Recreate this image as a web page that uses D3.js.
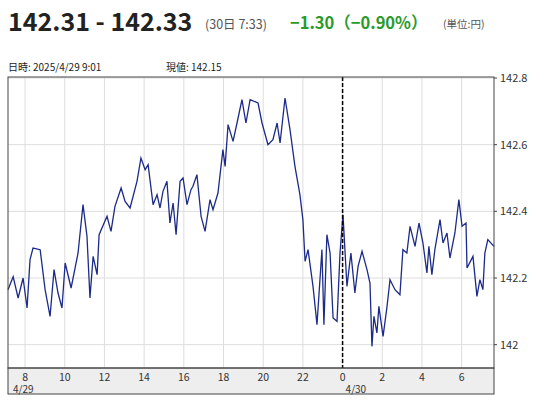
<!DOCTYPE html>
<html><head><meta charset="utf-8">
<script src="https://cdn.jsdelivr.net/npm/d3@7"></script>
<style>body{margin:0;background:#fff;font-family:"Noto Sans CJK JP","Noto Sans",sans-serif}</style>
</head><body><svg id="c" width="547" height="400"></svg>
<script>
const hours=[7.14,7.40,7.65,7.90,8.10,8.25,8.40,8.76,9.01,9.26,9.46,9.66,9.86,10.02,10.32,10.67,10.92,11.12,11.27,11.43,11.63,11.73,12.13,12.33,12.53,12.84,13.04,13.29,13.64,13.84,14.05,14.20,14.45,14.65,14.80,14.95,15.15,15.30,15.46,15.61,15.81,15.96,16.16,16.36,16.46,16.66,16.87,17.07,17.32,17.47,17.72,17.97,18.08,18.23,18.48,18.68,18.93,19.13,19.34,19.74,19.94,20.24,20.49,20.70,20.85,21.10,21.35,21.60,21.85,22.00,22.11,22.26,22.51,22.71,22.96,23.06,23.21,23.37,23.52,23.72,23.87,24.02,24.22,24.42,24.62,24.78,24.98,25.23,25.38,25.48,25.58,25.73,25.83,26.04,26.24,26.39,26.64,26.89,27.04,27.24,27.40,27.65,27.85,28.05,28.25,28.35,28.50,28.65,28.91,29.06,29.26,29.41,29.66,29.86,30.02,30.22,30.27,30.57,30.77,30.92,31.07,31.17,31.32,31.63];
const prices=[142.165,142.204,142.14,142.2,142.11,142.255,142.29,142.285,142.165,142.085,142.225,142.155,142.11,142.245,142.17,142.275,142.42,142.325,142.14,142.265,142.21,142.33,142.385,142.34,142.415,142.47,142.43,142.41,142.49,142.56,142.525,142.54,142.42,142.45,142.41,142.46,142.49,142.365,142.425,142.33,142.49,142.50,142.42,142.465,142.475,142.51,142.385,142.34,142.435,142.405,142.455,142.585,142.535,142.66,142.61,142.665,142.735,142.665,142.735,142.725,142.665,142.6,142.615,142.665,142.605,142.74,142.645,142.535,142.45,142.375,142.25,142.285,142.175,142.06,142.285,142.06,142.33,142.275,142.08,142.07,142.275,142.39,142.175,142.275,142.155,142.235,142.28,142.225,142.185,141.995,142.085,142.035,142.115,142.025,142.115,142.195,142.165,142.15,142.285,142.275,142.355,142.295,142.365,142.305,142.215,142.295,142.21,142.285,142.375,142.305,142.335,142.26,142.335,142.435,142.355,142.365,142.23,142.265,142.145,142.195,142.165,142.275,142.315,142.295];
const xTicks=[8,10,12,14,16,18,20,22,24,26,28,30];
const xTickLabels=["8","10","12","14","16","18","20","22","0","2","4","6"];
const yTicks=[142,142.2,142.4,142.6,142.8];
const dateLabels=[{h:8,t:"4/29",dx:-12},{h:24,t:"4/30",dx:3}];

const svg=d3.select("#c");
const L=8,R=494,T=77,B=368,AB=394;
const x=d3.scaleLinear().domain([7.14,31.63]).range([L,R]);
const y=d3.scaleLinear().domain([141.93,142.803]).range([B,T]);

svg.append("text").attr("x",8).attr("y",31).attr("font-size",25).attr("font-weight","bold").attr("fill","#222").text("142.31 - 142.33");
svg.append("text").attr("x",205).attr("y",29).attr("font-size",12.5).attr("fill","#555").text("(30日 7:33)");
svg.append("text").attr("x",290).attr("y",29).attr("font-size",16.5).attr("font-weight","bold").attr("fill","#2a9a2a").text("−1.30（−0.90%）");
svg.append("text").attr("x",443).attr("y",28).attr("font-size",10.5).attr("fill","#555").text("(単位:円)");
svg.append("text").attr("x",8).attr("y",71).attr("font-size",10).attr("fill","#222").text("日時: 2025/4/29  9:01");
svg.append("text").attr("x",166).attr("y",71).attr("font-size",10).attr("fill","#222").text("現値: 142.15");

const g=svg.append("g");
g.selectAll(".vx").data(xTicks).enter().append("line").attr("x1",d=>x(d)).attr("x2",d=>x(d)).attr("y1",T).attr("y2",B).attr("stroke","#ddd");
g.selectAll(".hy").data(yTicks).enter().append("line").attr("x1",L).attr("x2",R).attr("y1",d=>y(d)).attr("y2",d=>y(d)).attr("stroke","#ddd");

svg.append("rect").attr("x",L).attr("y",B).attr("width",R-L).attr("height",AB-B).attr("fill","#eee").attr("stroke","#444");
svg.selectAll(".xl").data(xTicks).enter().append("text").attr("x",d=>x(d)).attr("y",381).attr("text-anchor","middle").attr("font-size",10.5).attr("fill","#333").text((d,i)=>xTickLabels[i]);
svg.selectAll(".dl").data(dateLabels).enter().append("text").attr("x",d=>x(d.h)+d.dx).attr("y",393).attr("font-size",10).attr("fill","#333").text(d=>d.t);

svg.selectAll(".yl").data(yTicks).enter().append("text").attr("x",R+6).attr("y",d=>y(d)+4).attr("font-size",11).attr("fill","#333").text(d=>+d.toFixed(1));
svg.selectAll(".yt").data(yTicks).enter().append("line").attr("x1",R).attr("x2",R+3).attr("y1",d=>y(d)).attr("y2",d=>y(d)).attr("stroke","#444");

const line=d3.line().x((d,i)=>x(hours[i])).y(d=>y(d));
svg.append("path").datum(prices).attr("d",line).attr("fill","none").attr("stroke","#1c2a8a").attr("stroke-width",1.3);

svg.append("line").attr("x1",x(24)).attr("x2",x(24)).attr("y1",T).attr("y2",B).attr("stroke","#000").attr("stroke-width",1.5).attr("stroke-dasharray","4,2");

svg.append("rect").attr("x",L).attr("y",T).attr("width",R-L).attr("height",B-T).attr("fill","none").attr("stroke","#444");
</script></body></html>
